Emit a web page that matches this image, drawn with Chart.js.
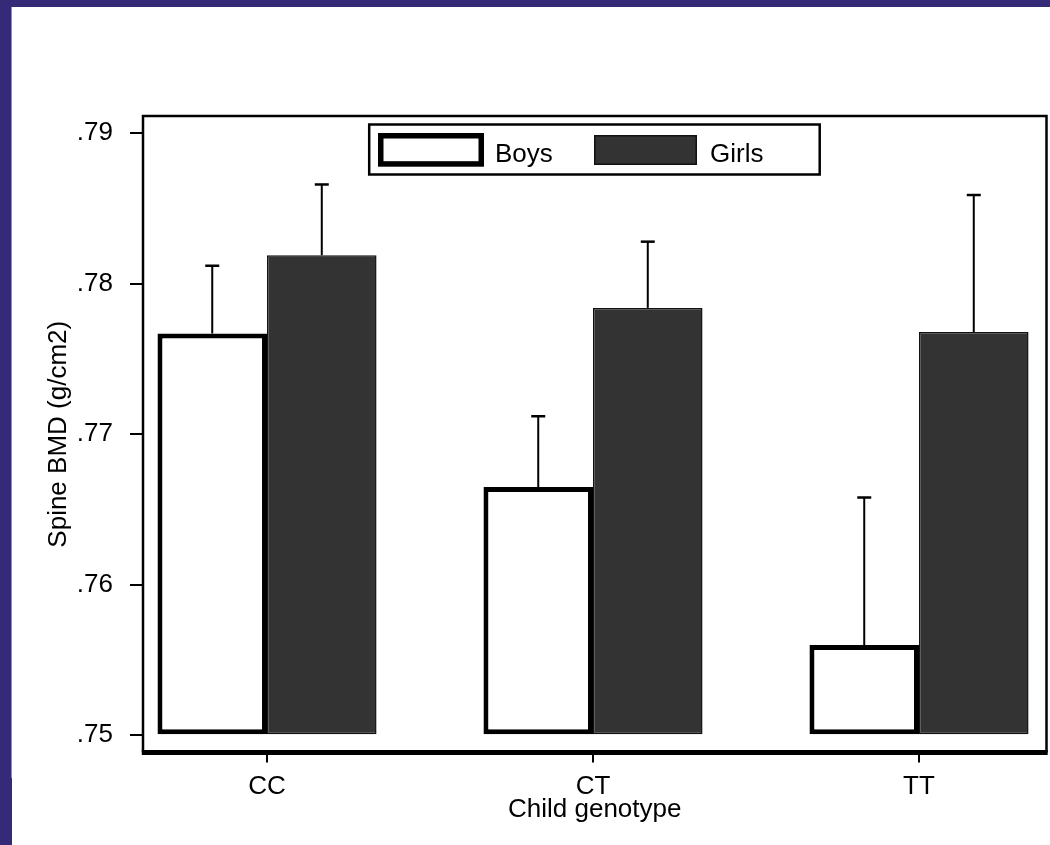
<!DOCTYPE html>
<html><head><meta charset="utf-8">
<script src="https://cdn.jsdelivr.net/npm/chart.js@4"></script>
<style>html,body{margin:0;padding:0;background:#fff;} canvas{display:block}</style>
</head><body>
<canvas id="c" width="1050" height="845"></canvas>
<script>
const categories = ['CC', 'CT', 'TT'];
const seriesNames = ['Boys', 'Girls'];
const boysMean = [0.7767, 0.7665, 0.7560];
const girlsMean = [0.7819, 0.7784, 0.7768];
const boysSE = [0.0045, 0.0047, 0.0098];
const girlsSE = [0.0047, 0.0044, 0.0091];
const yTickValues = [0.75, 0.76, 0.77, 0.78, 0.79];
const yTickLabels = ['.75', '.76', '.77', '.78', '.79'];
const seriesSE = [boysSE, girlsSE];

const FONT = {family: '"Liberation Sans", Arial, sans-serif', size: 26};

const decor = {
  id: 'decor',
  beforeDraw(chart) {
    const ctx = chart.ctx;
    ctx.save();
    ctx.fillStyle = '#352a78';
    ctx.fillRect(0, 0, 1050, 845);
    ctx.fillStyle = '#ffffff';
    ctx.fillRect(12, 7, 1038, 838);
    ctx.fillStyle = '#8f86c8';
    ctx.fillRect(11, 7, 1, 771);
    ctx.restore();
  },
  afterDatasetsDraw(chart) {
    const ctx = chart.ctx, ys = chart.scales.y;
    chart.data.datasets.forEach((ds, di) => {
      const meta = chart.getDatasetMeta(di);
      meta.data.forEach((bar, i) => {
        const x = bar.x;
        const yTop = ys.getPixelForValue(ds.data[i].y + seriesSE[di][i]);
        ctx.save();
        ctx.strokeStyle = '#000';
        ctx.lineWidth = 2;
        ctx.beginPath(); ctx.moveTo(x, bar.y); ctx.lineTo(x, yTop); ctx.stroke();
        ctx.lineWidth = 2.5;
        ctx.beginPath(); ctx.moveTo(x - 7, yTop); ctx.lineTo(x + 7, yTop); ctx.stroke();
        ctx.restore();
      });
    });
  },
  afterDraw(chart) {
    const ctx = chart.ctx, a = chart.chartArea;
    ctx.save();
    ctx.strokeStyle = '#000';
    ctx.lineWidth = 2.5;
    ctx.beginPath();
    ctx.moveTo(a.left, a.bottom); ctx.lineTo(a.left, a.top); ctx.lineTo(a.right, a.top); ctx.lineTo(a.right, a.bottom);
    ctx.stroke();
    ctx.lineWidth = 5;
    ctx.beginPath(); ctx.moveTo(a.left - 1.2, a.bottom); ctx.lineTo(a.right + 1.2, a.bottom); ctx.stroke();
    // legend
    ctx.lineWidth = 2.5;
    ctx.strokeRect(369.2, 124.5, 450.5, 50);
    const ds = chart.data.datasets;
    ctx.lineWidth = 5.5;
    ctx.fillStyle = ds[0].backgroundColor;
    ctx.fillRect(380.75, 135.75, 100.5, 28.2);
    ctx.strokeStyle = ds[0].borderColor;
    ctx.strokeRect(380.75, 135.75, 100.5, 28.2);
    ctx.fillStyle = ds[1].backgroundColor;
    ctx.fillRect(594, 135, 103, 30);
    ctx.lineWidth = 1.5;
    ctx.strokeStyle = ds[1].borderColor;
    ctx.strokeRect(594.75, 135.75, 101.5, 28.5);
    ctx.fillStyle = '#000';
    ctx.font = '26px "Liberation Sans", Arial, sans-serif';
    ctx.textBaseline = 'alphabetic';
    ctx.textAlign = 'left';
    ctx.fillText(ds[0].label, 495, 162);
    ctx.fillText(ds[1].label, 710, 162);
    ctx.restore();
  }
};

new Chart(document.getElementById('c'), {
  type: 'bar',
  data: {
    datasets: [
      {
        label: seriesNames[0],
        data: boysMean.map((v, i) => ({x: i, y: v})),
        backgroundColor: '#ffffff',
        borderColor: '#000000',
        borderWidth: 5,
        borderSkipped: false,
        base: 0.75
      },
      {
        label: seriesNames[1],
        data: girlsMean.map((v, i) => ({x: i, y: v})),
        backgroundColor: '#333333',
        borderColor: '#111111',
        borderWidth: 1.5,
        borderSkipped: false,
        base: 0.75
      }
    ]
  },
  options: {
    responsive: false,
    animation: false,
    devicePixelRatio: 1,
    categoryPercentage: 0.672,
    barPercentage: 1,
    layout: {padding: {left: 0, top: 116, right: 3.5, bottom: 0}},
    plugins: {legend: {display: false}, tooltip: {enabled: false}},
    scales: {
      x: {
        type: 'linear',
        offset: false,
        min: -0.3804,
        max: 2.3911,
        afterBuildTicks: (s) => { s.ticks = categories.map((c, i) => ({value: i})); },
        afterFit: (s) => { s.height = 845 - 752.5; },
        ticks: {callback: (v, i) => categories[i], font: FONT, color: '#000', padding: 9, maxRotation: 0, autoSkip: false},
        grid: {display: true, offset: false, drawOnChartArea: false, drawTicks: true, tickLength: 10, lineWidth: 2, color: '#000'},
        border: {display: false},
        title: {display: true, text: 'Child genotype', font: FONT, color: '#000', padding: {top: 0, bottom: 19.5}}
      },
      y: {
        type: 'linear',
        min: 0.748857,
        max: 0.79115,
        afterBuildTicks: (s) => { s.ticks = yTickValues.map(v => ({value: v})); },
        afterFit: (s) => { s.width = 143; },
        ticks: {callback: (v, i) => yTickLabels[i], font: FONT, color: '#000', padding: 17},
        grid: {display: true, drawOnChartArea: false, drawTicks: true, tickLength: 13, lineWidth: 2, color: '#000'},
        border: {display: false},
        title: {display: true, text: 'Spine BMD (g/cm2)', font: FONT, color: '#000', padding: {top: 43.4, bottom: 0}}
      }
    }
  },
  plugins: [decor]
});
</script>
</body></html>
